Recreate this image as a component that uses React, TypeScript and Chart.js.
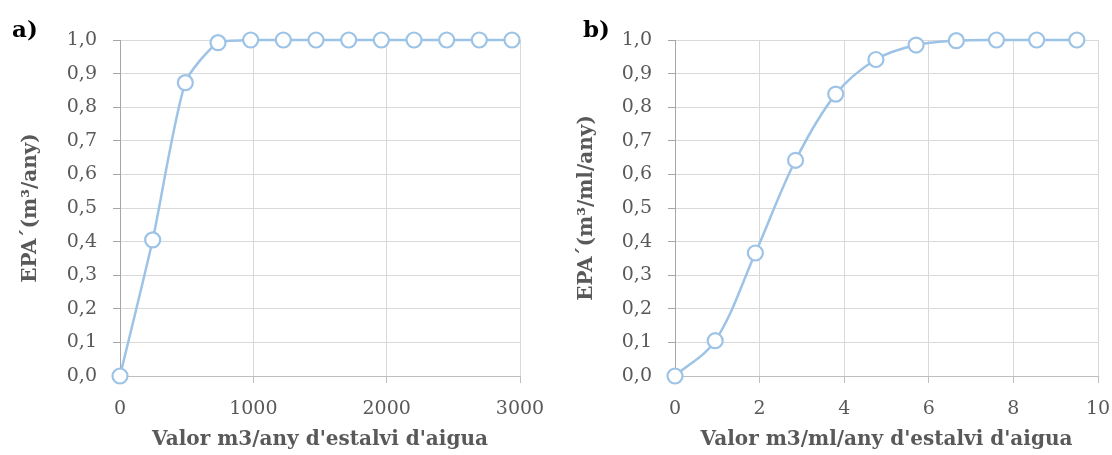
import React, { useEffect, useRef } from "react";
import { Chart, registerables } from "chart.js";

Chart.register(...registerables);

// Panel a
const xA = [0, 245, 490, 735, 980, 1225, 1470, 1715, 1960, 2205, 2450, 2695, 2940];
const yA = [0, 0.405, 0.873, 0.992, 1, 1, 1, 1, 1, 1, 1, 1, 1];
// Panel b
const xB = [0, 0.95, 1.9, 2.85, 3.8, 4.75, 5.7, 6.65, 7.6, 8.55, 9.5];
const yB = [0, 0.105, 0.366, 0.642, 0.839, 0.942, 0.985, 0.998, 1, 1, 1];

const yTitleA = "EPA´(m³/any)";
const yTitleB = "EPA´(m³/ml/any)";
const xTitleA = "Valor m3/any d'estalvi d'aigua";
const xTitleB = "Valor m3/ml/any d'estalvi d'aigua";

const FONT = "'DejaVu Serif', serif";
const GREY = "#595959";
const LINE = "#9DC3E6";

type PanelProps = {
  xs: number[];
  ys: number[];
  xMax: number;
  xStep: number;
  yTitle: string;
  xTitle: string;
  yAxisWidth: number;
  padRight: number;
  label: string;
  labelLeft: number;
  tension: number;
};

function Panel(p: PanelProps) {
  const ref = useRef<HTMLCanvasElement | null>(null);
  useEffect(() => {
    if (!ref.current) return;
    const chart = new Chart(ref.current, {
      type: "line",
      data: {
        datasets: [
          {
            data: p.xs.map((x, i) => ({ x, y: p.ys[i] })),
            borderColor: LINE,
            borderWidth: 2.5,
            backgroundColor: "#ffffff",
            pointBackgroundColor: "#ffffff",
            pointBorderColor: LINE,
            pointBorderWidth: 2.2,
            pointRadius: 7.5,
            tension: p.tension,
            clip: false as any,
          },
        ],
      },
      options: {
        animation: false,
        responsive: false,
        maintainAspectRatio: false,
        layout: {
          autoPadding: false,
          padding: { left: 0, right: p.padRight, top: 40, bottom: 0 },
        },
        plugins: { legend: { display: false }, tooltip: { enabled: false } },
        scales: {
          x: {
            type: "linear",
            min: 0,
            max: p.xMax,
            afterFit: (axis: any) => {
              axis.height = 79;
              axis.paddingLeft = 0;
              axis.paddingRight = 0;
            },
            ticks: {
              stepSize: p.xStep,
              color: GREY,
              font: { family: FONT, size: 19 },
              padding: 15,
              maxRotation: 0,
              callback: (v: any) => String(v),
            },
            grid: {
              color: "#D9D9D9",
              lineWidth: 1,
              tickLength: 7,
              tickColor: "#BFBFBF",
            },
            border: { color: "#BFBFBF", width: 1 },
            title: {
              display: true,
              text: p.xTitle,
              color: GREY,
              font: { family: FONT, size: 20, weight: "bold" },
              padding: { top: 0, bottom: 3 },
            },
          },
          y: {
            min: 0,
            max: 1,
            afterFit: (axis: any) => {
              axis.width = p.yAxisWidth;
              axis.paddingTop = 0;
              axis.paddingBottom = 0;
            },
            ticks: {
              stepSize: 0.1,
              color: GREY,
              font: { family: FONT, size: 19 },
              padding: 16,
              callback: (v: any) => Number(v).toFixed(1).replace(".", ","),
            },
            grid: {
              color: "#D9D9D9",
              lineWidth: 1,
              tickLength: 7,
              tickColor: "#A6A6A6",
            },
            border: { color: "#A6A6A6", width: 1 },
            title: {
              display: true,
              text: p.yTitle,
              color: GREY,
              font: { family: FONT, size: 20, weight: "bold" },
              padding: { top: 19, bottom: 0 },
            },
          },
        },
      },
    });
    return () => chart.destroy();
  }, []);
  return (
    <div style={{ position: "relative", width: 556, height: 455 }}>
      <canvas ref={ref} width={556} height={455} style={{ width: 556, height: 455, display: "block" }} />
      <div
        style={{
          position: "absolute",
          left: p.labelLeft,
          top: 14,
          fontFamily: FONT,
          fontWeight: "bold",
          fontSize: 23,
          color: "#000",
          lineHeight: "30px",
        }}
      >
        {p.label}
      </div>
    </div>
  );
}

export default function App() {
  return (
    <div
      style={{
        position: "fixed",
        left: 0,
        top: 0,
        width: 1112,
        height: 455,
        display: "flex",
        background: "#fff",
      }}
    >
      <Panel
        xs={xA}
        ys={yA}
        xMax={3000}
        xStep={1000}
        yTitle={yTitleA}
        xTitle={xTitleA}
        yAxisWidth={120}
        padRight={36}
        label="a)"
        labelLeft={12}
        tension={0.22}
      />
      <Panel
        xs={xB}
        ys={yB}
        xMax={10}
        xStep={2}
        yTitle={yTitleB}
        xTitle={xTitleB}
        yAxisWidth={119}
        padRight={14}
        label="b)"
        labelLeft={27}
        tension={0.35}
      />
    </div>
  );
}
